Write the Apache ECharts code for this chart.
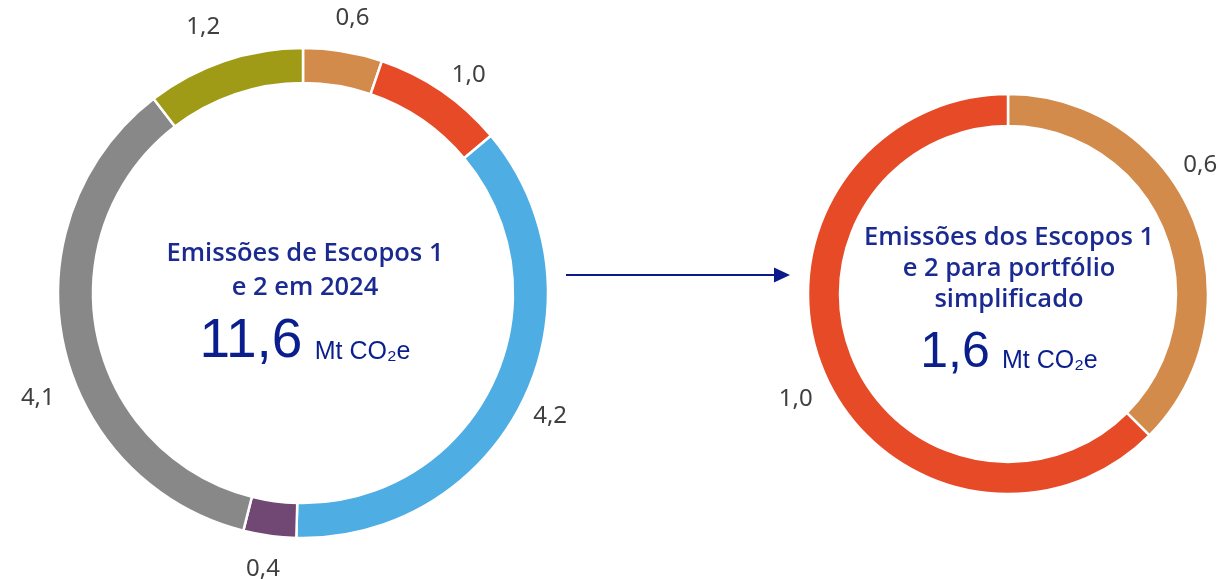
<!DOCTYPE html>
<html>
<head>
<meta charset="utf-8">
<script src="https://cdn.jsdelivr.net/npm/echarts@6/dist/echarts.min.js"></script>
<style>
  html, body { margin: 0; padding: 0; background: #ffffff; }
  #chart { width: 1220px; height: 579px; }
</style>
</head>
<body>
<div id="chart"></div>
<script>
// Scope 1 & 2 emissions in 2024, by source (Mt CO2e), clockwise from 12 o'clock
const totalCategories = ['A', 'B', 'C', 'D', 'E', 'F'];
const totalValues = [0.6, 1.0, 4.2, 0.4, 4.1, 1.2];
const totalColors = ['#D38B4C', '#E64A27', '#4EADE2', '#714873', '#888888', '#A09B17'];

// Simplified portfolio emissions (Mt CO2e)
const simpleCategories = ['A', 'B'];
const simpleValues = [0.6, 1.0];
const simpleColors = ['#D38B4C', '#E64A27'];

// Headline figures shown in the centre of each ring
const totalLabel = '11,6';
const simpleLabel = '1,6';

// Small nudges so outside labels sit clear of neighbours
const totalLabelNudge = [[4, 0], [8, 12], [-4, 2], [-2, 0], [8, 48], [-10, -2]];
const simpleLabelNudge = [[-24, -39], [4, 16]];

const fmt = v => v.toFixed(1).replace('.', ',');

const LEFT_C = [303, 293];
const RIGHT_C = [1008, 294];
const NAVY = '#1A2A90';
const NUM = '#0B1E8E';
const LABEL_FONT = { fontFamily: 'Noto Sans', fontSize: 24, color: '#3F3F3F' };

function ring(names, values, colors, center, radius) {
  return {
    type: 'pie',
    center: center,
    radius: radius,
    startAngle: 90,
    clockwise: true,
    silent: true,
    animation: false,
    label: { show: false },
    labelLine: { show: false },
    itemStyle: { borderColor: '#ffffff', borderWidth: 2.5 },
    data: values.map((v, i) => ({ name: names[i], value: v, itemStyle: { color: colors[i] } }))
  };
}

// An invisible ring just outside the coloured one carries the value labels at each slice's mid-angle
function labelRing(names, values, nudges, center, radius) {
  return {
    type: 'pie',
    center: center,
    radius: radius,
    startAngle: 90,
    clockwise: true,
    silent: true,
    animation: false,
    labelLine: { show: false },
    itemStyle: { color: 'rgba(0,0,0,0)', borderWidth: 0 },
    label: Object.assign({ show: true, position: 'inside', rotate: 0, formatter: p => fmt(p.value) }, LABEL_FONT),
    data: values.map((v, i) => ({ name: names[i], value: v, label: { offset: nudges[i] } }))
  };
}

function centreText(x, y, gap, lines, bigText, bigSize, bigY) {
  const items = lines.map((t, i) => ({
    type: 'text',
    x: x,
    y: y + i * gap,
    silent: true,
    style: {
      text: t,
      align: 'center',
      verticalAlign: 'middle',
      fontFamily: 'Open Sans',
      fontWeight: 600,
      fontSize: 25.5,
      fill: NAVY
    }
  }));
  items.push({
    type: 'text',
    x: x,
    y: bigY,
    silent: true,
    style: {
      text: '{big|' + bigText + '}{sp|  }{u|Mt CO₂e}',
      align: 'center',
      verticalAlign: 'bottom',
      rich: {
        big: { fontFamily: 'Liberation Sans, Arial', fontSize: bigSize, fill: NUM, verticalAlign: 'bottom', lineHeight: bigSize },
        sp: { fontSize: 22, verticalAlign: 'bottom' },
        u: { fontFamily: 'Liberation Sans, DejaVu Sans', fontSize: 25, fill: NUM, verticalAlign: 'bottom', padding: [0, 0, 4, 0] }
      }
    }
  });
  return items;
}

const chart = echarts.init(document.getElementById('chart'), null, { renderer: 'canvas' });

chart.setOption({
  backgroundColor: '#ffffff',
  animation: false,
  series: [
    ring(totalCategories, totalValues, totalColors, LEFT_C, [210, 245]),
    labelRing(totalCategories, totalValues, totalLabelNudge, LEFT_C, [266, 286]),
    ring(simpleCategories, simpleValues, simpleColors, RIGHT_C, [168, 200]),
    labelRing(simpleCategories, simpleValues, simpleLabelNudge, RIGHT_C, [221, 241])
  ],
  graphic: [
    ...centreText(LEFT_C[0] + 2, 254, 34, ['Emissões de Escopos 1', 'e 2 em 2024'], totalLabel, 55, 369),
    ...centreText(RIGHT_C[0] + 1, 238, 31, ['Emissões dos Escopos 1', 'e 2 para portfólio', 'simplificado'], simpleLabel, 50, 378),
    // arrow from the full inventory to the simplified portfolio
    {
      type: 'line',
      silent: true,
      shape: { x1: 566, y1: 275, x2: 778, y2: 275 },
      style: { stroke: '#0D1A8A', lineWidth: 2 }
    },
    {
      type: 'polygon',
      silent: true,
      shape: { points: [[774, 267.5], [790, 275], [774, 282.5]] },
      style: { fill: '#0D1A8A' }
    }
  ]
});
</script>
</body>
</html>
